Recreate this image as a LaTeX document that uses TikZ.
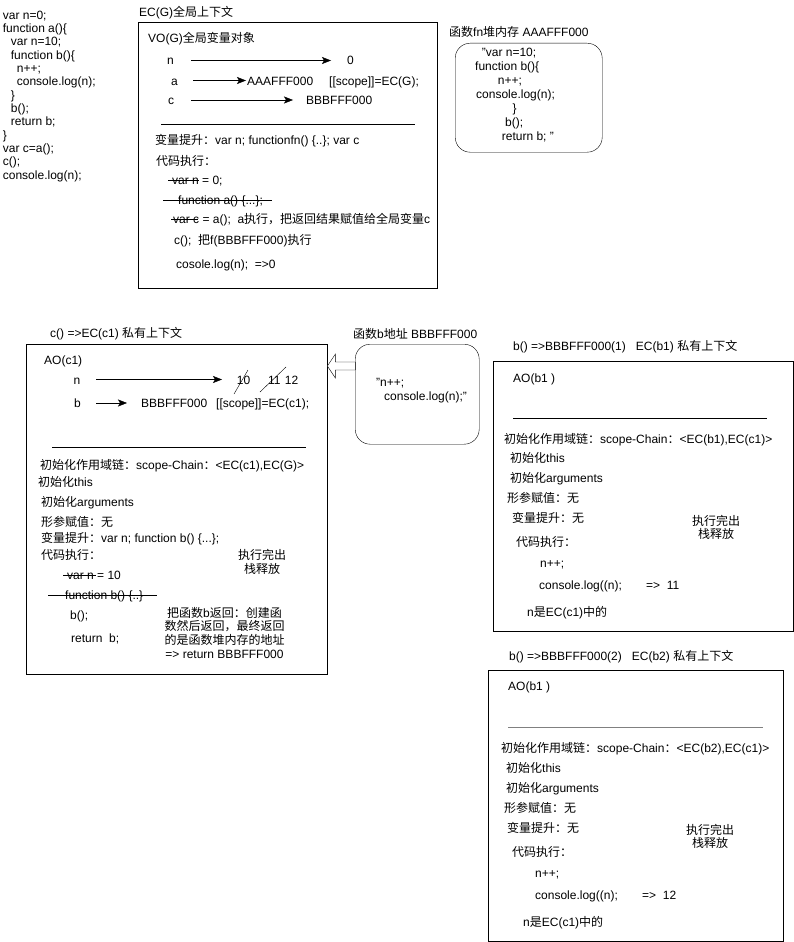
\documentclass[tikz,border=0pt]{standalone}
\usepackage{fontspec}
\setmainfont{Liberation Sans}
\newfontfamily\cjk{Noto Sans CJK SC}
\newcommand{\zh}[1]{{\cjk #1}}
\usetikzlibrary{arrows.meta}

\tikzset{
  txt/.style={anchor=base west, inner sep=0pt},
  frame/.style={draw, anchor=north west, inner sep=0pt},
  arr/.style={-{Stealth[length=9pt,width=7pt,inset=2pt]}},
  strike/.style={line width=0.6pt},
  block/.style={anchor=north, inner sep=0pt, align=center}
}

\begin{document}
\begin{tikzpicture}[x=1pt, y=-1pt, font=\fontsize{12}{13.5}\selectfont]
\useasboundingbox (0,0) rectangle (794,942);

% source code
\node [anchor=north west, inner sep=0pt, align=left, font=\fontsize{12}{13.33}\selectfont] (src) at (2.7,10.7) {var n=0;\\function a()\{\\\hspace*{8pt}var n=10;\\\hspace*{8pt}function b()\{\\\hspace*{14pt}n++;\\\hspace*{14pt}console.log(n);\\\hspace*{8pt}\}\\\hspace*{8pt}b();\\\hspace*{8pt}return b;\\\}\\var c=a();\\c();\\console.log(n);};

% EC(G)
\node [txt] (ecgtitle) at (139,17) {EC(G)\zh{全局上下文}};
\node [frame, minimum width=299pt, minimum height=266pt] (ecg) at (138,22) {};
\node [txt] (vog) at (148,43) {VO(G)\zh{全局变量对象}};
\node [txt] (gn) at (167,65) {n};
\node [txt] (gnval) at (347,65) {0};
\node [txt] (ga) at (171,85) {a};
\node [txt] (gaval) at (247,85) {AAAFFF000};
\node [txt] (gascope) at (329,85) {[[scope]]=EC(G);};
\node [txt] (gc) at (168,104.5) {c};
\node [txt] (gcval) at (306,104.5) {BBBFFF000};
\draw [arr, shorten <=17pt, shorten >=16pt] ([yshift=4.5pt]gn.base east) -- ([yshift=4.5pt]gnval.base west);
\draw [arr, shorten <=15pt, shorten >=1pt] ([yshift=4.5pt]ga.base east) -- ([yshift=4.5pt]gaval.base west);
\draw [arr, shorten <=17pt, shorten >=13pt] ([yshift=4.5pt]gc.base east) -- ([yshift=4.5pt]gcval.base west);
\draw (161,124) -- (415,124);
\node [txt] (ghoist) at (155,144.5) {\zh{变量提升：}var n; functionfn() \{..\}; var c};
\node [txt] (gexec) at (156,165.5) {\zh{代码执行：}};
\node [txt] (gl1) at (172,184.5) {var n = 0;};
\node [txt] (gl2) at (178,204.5) {function a() \{...\};};
\node [txt] (gl3) at (173,223.5) {var c = a();\ \ a\zh{执行，把返回结果赋值给全局变量}c};
\node [txt] (gl4) at (174,244.5) {c();\ \ \zh{把}f(BBBFFF000)\zh{执行}};
\node [txt] (gl5) at (176,268.5) {cosole.log(n);\ \ =>0};
\draw [strike] (168,180) -- (199,180);
\draw [strike] (163,200) -- (272,200);
\draw [strike] (171,219) -- (198,219);

% heap of a
\node [txt] (fntitle) at (449,36.3) {\zh{函数}fn\zh{堆内存} AAAFFF000};
\node [frame, rounded corners=15pt, minimum width=147pt, minimum height=109pt] (fnheap) at (455,43) {};
\node [anchor=north west, inner sep=0pt, align=left, font=\fontsize{12}{14}\selectfont] (fncode) at (475,48.4) {\hspace*{6.7pt}"var n=10;\\function b()\{\\\hspace*{22.7pt}n++;\\\hspace*{1pt}console.log(n);\\\hspace*{37.3pt}\}\\\hspace*{30pt}b();\\\hspace*{26.7pt}return b; "};

% EC(c1)
\node [txt] (c1title) at (50,337) {c() =>EC(c1) \zh{私有上下文}};
\node [frame, minimum width=301pt, minimum height=330pt] (c1) at (26,344) {};
\node [txt] (c1ao) at (44,364.5) {AO(c1)};
\node [txt] (cn) at (73.3,384) {n};
\node [txt] (cnten) at (236.7,384) {10};
\node [txt] (cneleven) at (268,384) {11};
\node [txt] (cntwelve) at (284.7,384) {12};
\draw (234,394) -- (248,370);
\draw (260,392) -- (286,367);
\node [txt] (cb) at (74,407.5) {b};
\node [txt] (cbval) at (141,407.5) {BBBFFF000};
\node [txt] (cbscope) at (216,407.5) {[[scope]]=EC(c1);};
\draw [arr, shorten <=16pt, shorten >=14.7pt] ([yshift=4.5pt]cn.base east) -- ([yshift=4.5pt]cnten.base west);
\draw [arr, shorten <=15.3pt, shorten >=14pt] ([yshift=4.5pt]cb.base east) -- ([yshift=4.5pt]cbval.base west);
\draw (52,447) -- (306,447);
\node [txt] (c1chain) at (40,469.5) {\zh{初始化作用域链：}scope-Chain\zh{：}<EC(c1),EC(G)>};
\node [txt] (c1this) at (38,486) {\zh{初始化}this};
\node [txt] (c1args) at (41,506.5) {\zh{初始化}arguments};
\node [txt] (c1param) at (41,526) {\zh{形参赋值：无}};
\node [txt] (c1hoist) at (41,542.5) {\zh{变量提升：}var n; function b() \{...\};};
\node [txt] (c1exec) at (41,559.5) {\zh{代码执行：}};
\node [block, font=\fontsize{12}{13.3}\selectfont] (c1done) at (262,549.6) {\zh{执行完出}\\\zh{栈释放}};
\node [txt] (c1l1) at (67,579.5) {var n = 10};
\node [txt] (c1l2) at (65,599.5) {function b() \{..\}};
\node [txt] (c1l3) at (70,619.5) {b();};
\node [txt] (c1l4) at (71,642.5) {return\ \ b;};
\draw [strike] (63,575) -- (96,575);
\draw [strike] (48,595) -- (157,595);
\node [block, font=\fontsize{12}{13.7}\selectfont] (c1ret) at (224.5,607) {\zh{把函数}b\zh{返回：创建函}\\\zh{数然后返回，最终返回}\\\zh{的是函数堆内存的地址}\\=> return BBBFFF000};

% heap of b
\node [txt] (bheaptitle) at (353,338.5) {\zh{函数}b\zh{地址} BBBFFF000};
\node [frame, rounded corners=15pt, minimum width=124pt, minimum height=100pt] (bheap) at (355,344) {};
\node [txt] (bcode1) at (376,386) {"n++;};
\node [txt] (bcode2) at (384,400.5) {console.log(n);"};
\draw [fill=white] ([yshift=-22pt]c1.north east) -- ++(8,-12) -- ++(0,8) -- ++(20,0) -- ++(0,8) -- ++(-20,0) -- ++(0,8) -- cycle;

% EC(b1)
\node [txt] (b1title) at (513,350.5) {b() =>BBBFFF000(1)\ \ \ EC(b1) \zh{私有上下文}};
\node [frame, minimum width=300pt, minimum height=270pt] (b1) at (493,361) {};
\node [txt] (b1ao) at (513,382) {AO(b1 )};
\draw (513,418.3) -- (767,418.3);
\node [txt] (b1chain) at (504,443.5) {\zh{初始化作用域链：}scope-Chain\zh{：}<EC(b1),EC(c1)>};
\node [txt] (b1this) at (510,462.5) {\zh{初始化}this};
\node [txt] (b1args) at (510,482) {\zh{初始化}arguments};
\node [txt] (b1param) at (507,502.5) {\zh{形参赋值：无}};
\node [txt] (b1hoist) at (512,522.5) {\zh{变量提升：无}};
\node [txt] (b1exec) at (516,546) {\zh{代码执行：}};
\node [block, font=\fontsize{12}{12.5}\selectfont] (b1done) at (716,515.6) {\zh{执行完出}\\\zh{栈释放}};
\node [txt] (b1l1) at (540,567.5) {n++;};
\node [txt] (b1l2) at (539,589.5) {console.log((n);};
\node [txt] (b1res) at (646,589.5) {=>\ \ 11};
\node [txt] (b1note) at (527,616) {n\zh{是}EC(c1)\zh{中的}};

% EC(b2)
\node [txt] (b2title) at (509,660.5) {b() =>BBBFFF000(2)\ \ \ EC(b2) \zh{私有上下文}};
\node [frame, minimum width=295pt, minimum height=271pt] (b2) at (488,670) {};
\node [txt] (b2ao) at (508,690) {AO(b1 )};
\draw [gray, line width=1.5pt] (508,727.3) -- (763,727.3);
\node [txt] (b2chain) at (501,752.5) {\zh{初始化作用域链：}scope-Chain\zh{：}<EC(b2),EC(c1)>};
\node [txt] (b2this) at (506,772.5) {\zh{初始化}this};
\node [txt] (b2args) at (506,792) {\zh{初始化}arguments};
\node [txt] (b2param) at (504,812.5) {\zh{形参赋值：无}};
\node [txt] (b2hoist) at (507,832.5) {\zh{变量提升：无}};
\node [txt] (b2exec) at (512,856) {\zh{代码执行：}};
\node [block, font=\fontsize{12}{12.5}\selectfont] (b2done) at (710,824.6) {\zh{执行完出}\\\zh{栈释放}};
\node [txt] (b2l1) at (535,877.5) {n++;};
\node [txt] (b2l2) at (535,899.5) {console.log((n);};
\node [txt] (b2res) at (642,899.5) {=>\ \ 12};
\node [txt] (b2note) at (523,926) {n\zh{是}EC(c1)\zh{中的}};
\end{tikzpicture}
\end{document}
